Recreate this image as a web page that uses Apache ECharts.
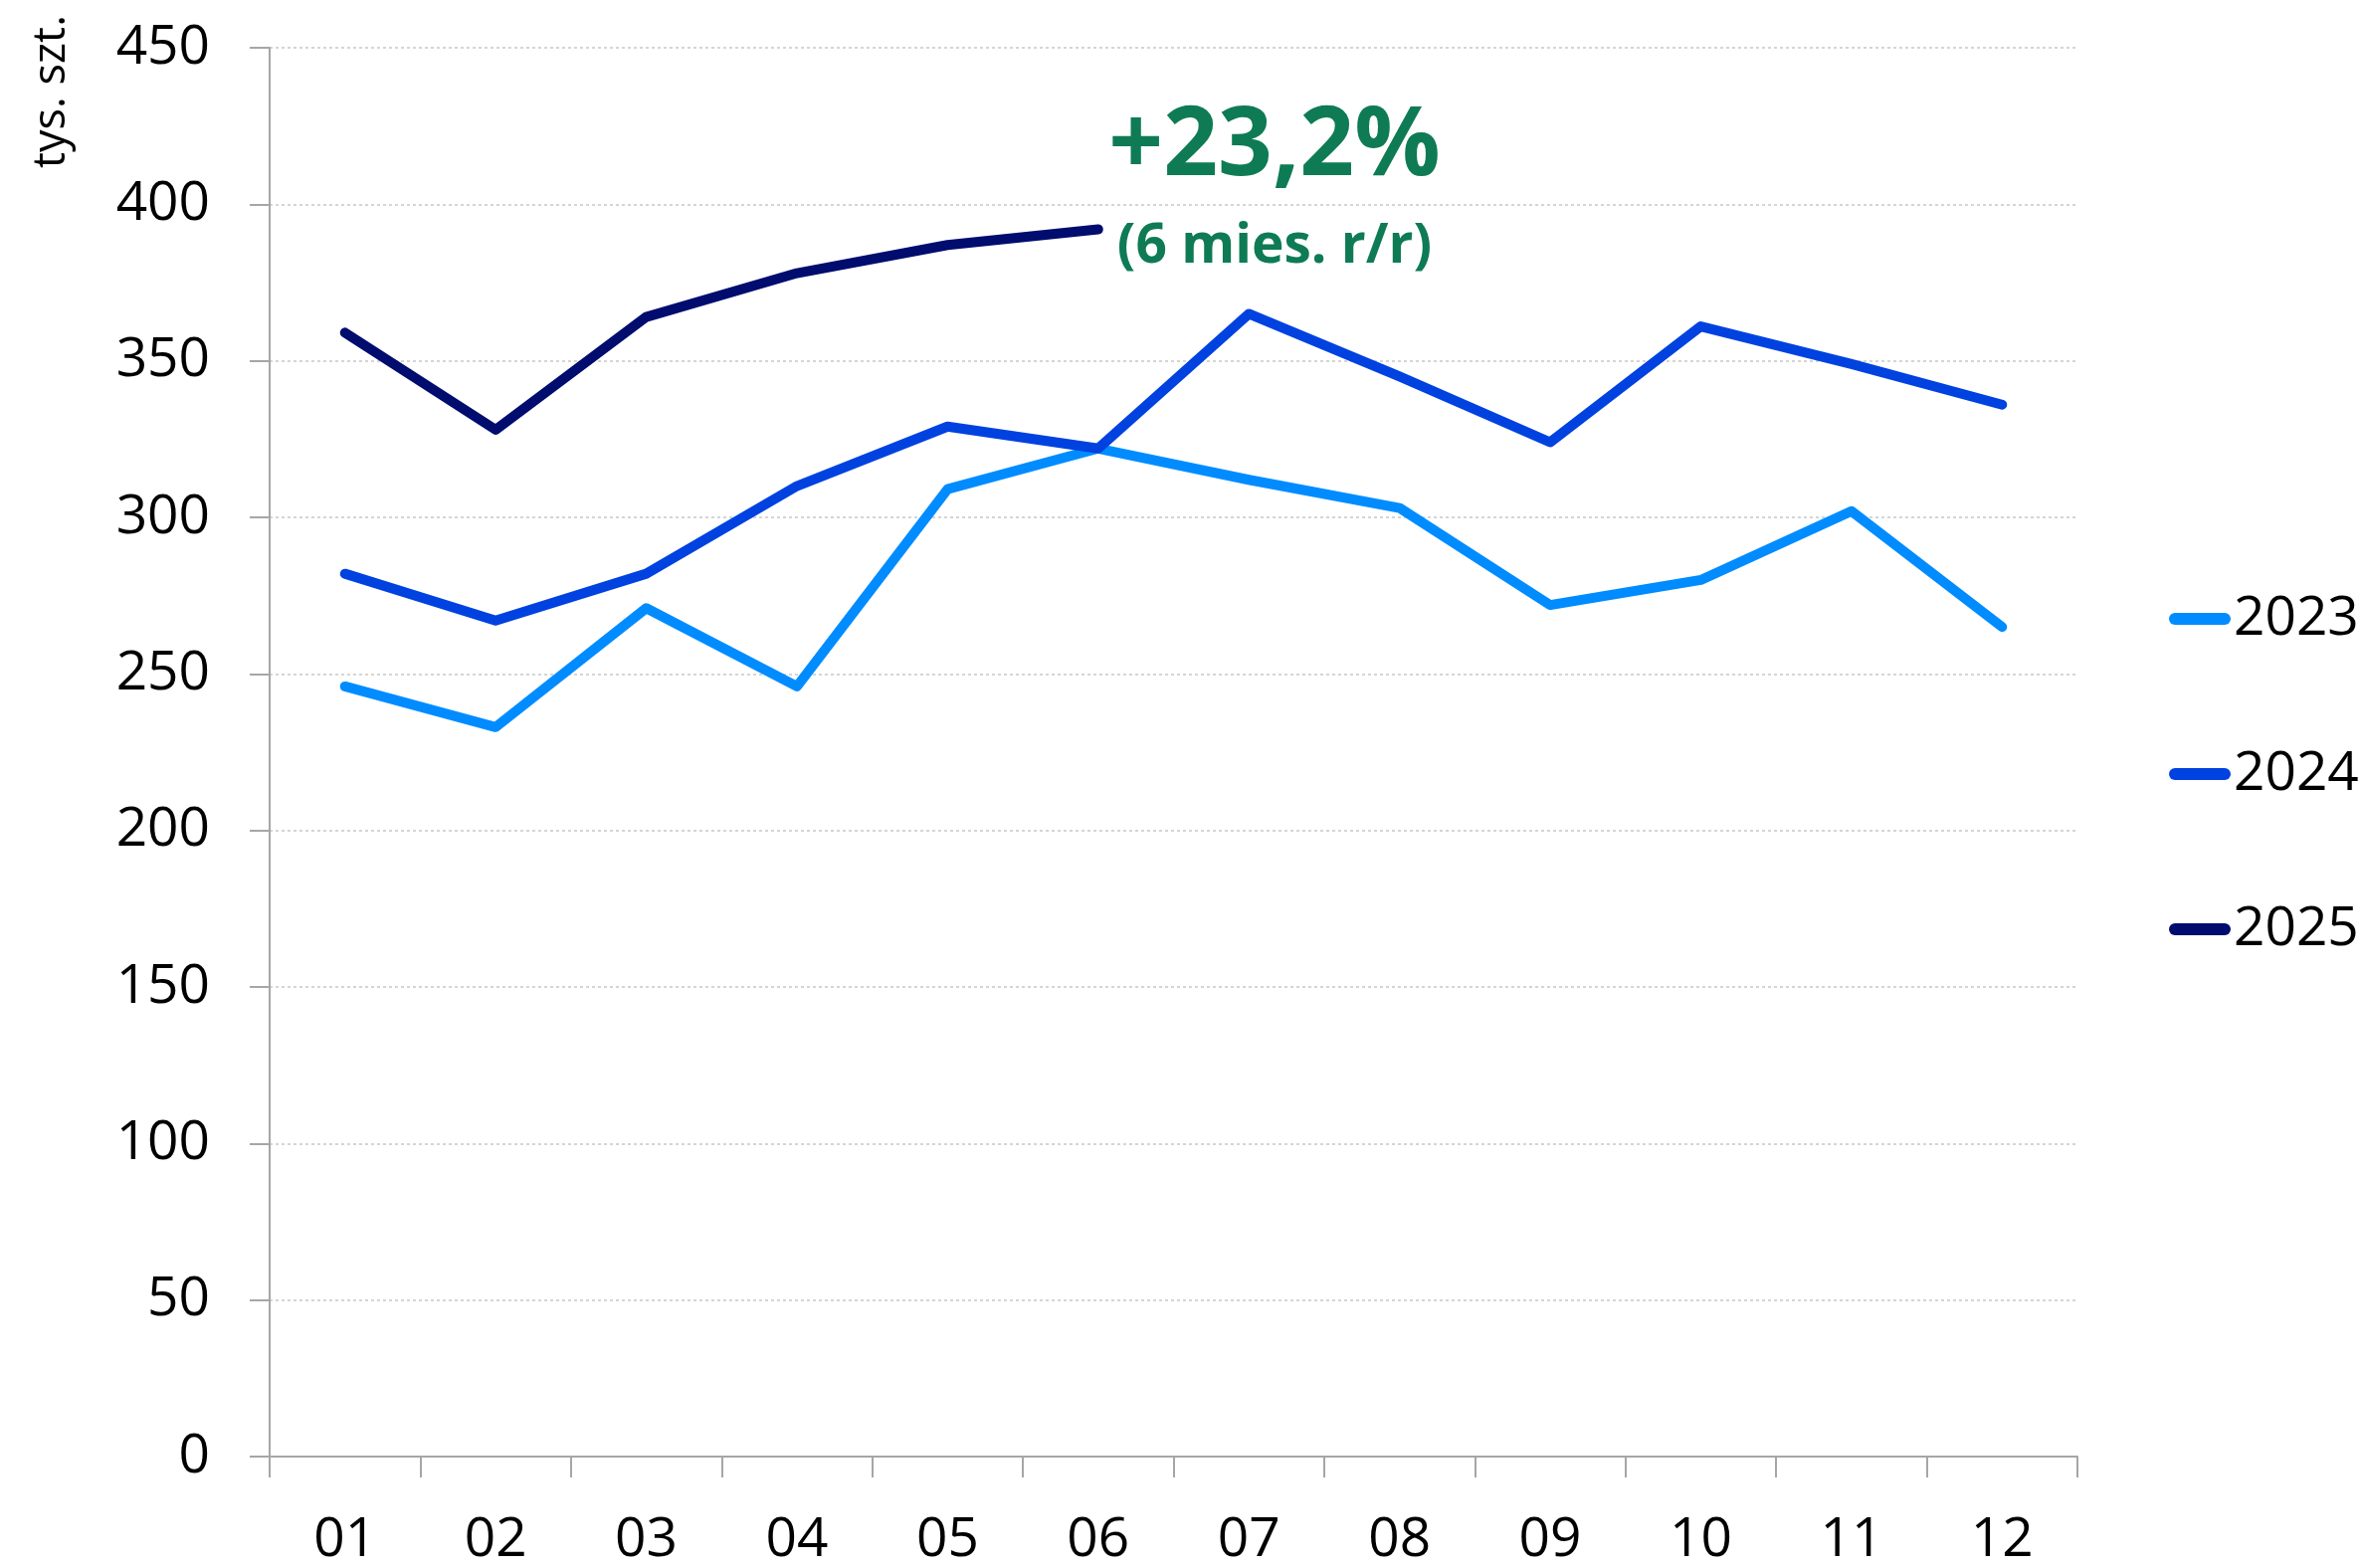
<!doctype html>
<html lang="pl">
<head>
    <meta charset="UTF-8">
    <title>tys. szt.</title>
    <script src="https://cdn.jsdelivr.net/npm/echarts@6/dist/echarts.min.js"></script>
    <style>
        html, body {margin: 0; padding: 0; background: #fff;}
        #main {width: 2372px; height: 1576px;}
    </style>
</head>
<body>
<div id="main"></div>
<script type="text/javascript">
    // dane
    var months = ['01', '02', '03', '04', '05', '06', '07', '08', '09', '10', '11', '12'];
    var years = ['2023', '2024', '2025'];
    var v2023 = [246, 233, 271, 246, 309, 322, 312, 303, 272, 280, 302, 265];
    var v2024 = [282, 267, 282, 310, 329, 322, 365, 345, 324, 361, 349, 336];
    var v2025 = [359, 328, 364, 378, 387, 392];
    var colors = ['#008cff', '#0042e0', '#000c6e'];
    var yTicks = [0, 450, 50];
    var noteBig = '+23,2%';
    var noteSmall = '(6 mies. r/r)';

    var font = '"Open Sans", "Noto Sans", sans-serif';
    var myChart = echarts.init(document.getElementById('main'));

    function lineSeries(name, data, color) {
        return {
            name: name,
            type: 'line',
            data: data,
            symbol: 'none',
            animation: false,
            lineStyle: {color: color, width: 10, cap: 'round', join: 'round'},
            itemStyle: {color: color}
        };
    }

    var option = {
        backgroundColor: '#ffffff',
        animation: false,
        grid: {left: 271, right: 284, top: 48, bottom: 109},
        legend: {
            orient: 'vertical',
            left: 2175,
            top: 587,
            itemWidth: 62,
            itemHeight: 12,
            itemGap: 96,
            icon: 'path://M6,0 L56,0 A6,6 0 0 1 56,12 L6,12 A6,6 0 0 1 6,0 Z',
            textStyle: {fontFamily: font, fontSize: 55, color: '#000', lineHeight: 60, padding: [0, 0, 0, -2]},
            data: years
        },
        xAxis: {
            type: 'category',
            data: months,
            boundaryGap: true,
            axisLine: {lineStyle: {color: '#a6a6a6', width: 2}},
            axisTick: {show: true, interval: 0, length: 21, lineStyle: {color: '#a6a6a6', width: 2}},
            axisLabel: {fontFamily: font, fontSize: 55, color: '#000', margin: 57, interval: 0},
            splitLine: {show: false}
        },
        yAxis: {
            type: 'value',
            min: yTicks[0],
            max: yTicks[1],
            interval: yTicks[2],
            axisLine: {show: true, lineStyle: {color: '#a6a6a6', width: 2}},
            axisTick: {show: true, length: 20, lineStyle: {color: '#a6a6a6', width: 2}},
            axisLabel: {fontFamily: font, fontSize: 55, color: '#000', margin: 60},
            splitLine: {show: true, lineStyle: {color: '#c8c8c8', width: 1.5, type: [3, 3]}}
        },
        graphic: [
            {
                type: 'text',
                x: 52,
                y: 92,
                rotation: Math.PI / 2,
                style: {text: 'tys. szt.', font: '45px ' + font, fill: '#000', align: 'center', verticalAlign: 'middle'}
            },
            {
                type: 'text',
                x: 1281,
                y: 149,
                style: {text: noteBig, font: 'bold 96px ' + font, fill: '#0e7b55', align: 'center', verticalAlign: 'middle'}
            },
            {
                type: 'text',
                x: 1281,
                y: 248,
                style: {text: noteSmall, font: 'bold 55px ' + font, fill: '#0e7b55', align: 'center', verticalAlign: 'middle'}
            }
        ],
        series: [
            lineSeries(years[0], v2023, colors[0]),
            lineSeries(years[1], v2024, colors[1]),
            lineSeries(years[2], v2025, colors[2])
        ]
    };

    myChart.setOption(option);
</script>
</body>
</html>
